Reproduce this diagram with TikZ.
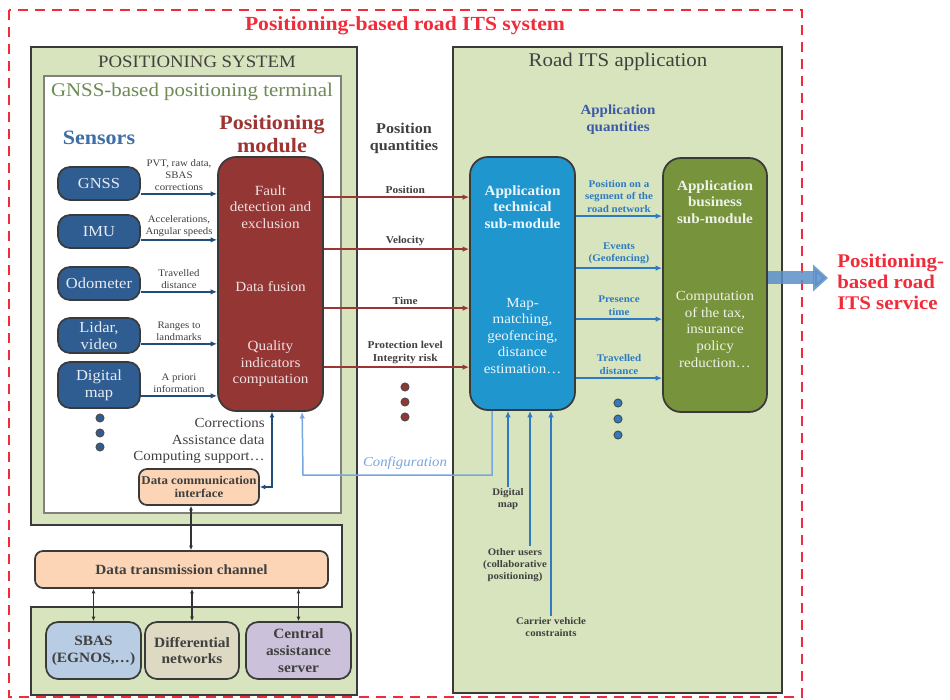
\documentclass[tikz,border=0pt]{standalone}
\usepackage{fontspec}
\setmainfont[FakeStretch=1.08]{Liberation Serif}
\usetikzlibrary{arrows.meta,positioning,calc}

\definecolor{redline}{HTML}{F02C3A}
\definecolor{boxgreen}{HTML}{D7E4BD}
\definecolor{boxline}{HTML}{3A3A3A}
\definecolor{termgreen}{HTML}{6C8A52}
\definecolor{sensblue}{HTML}{3D6EA8}
\definecolor{sensfill}{HTML}{2F5D92}
\definecolor{modred}{HTML}{9E3535}
\definecolor{modfill}{HTML}{943634}
\definecolor{techblue}{HTML}{2096CF}
\definecolor{busgreen}{HTML}{77933C}
\definecolor{qblue}{HTML}{3D5AA8}
\definecolor{arrblue}{HTML}{2E7BC4}
\definecolor{cfgblue}{HTML}{78A6DE}
\definecolor{darkblue}{HTML}{1F4E79}
\definecolor{peach}{HTML}{FBD5B5}
\definecolor{sbasblue}{HTML}{B8CCE4}
\definecolor{difftan}{HTML}{DDD9C3}
\definecolor{centlav}{HTML}{CCC1DA}
\definecolor{txtgray}{HTML}{404040}
\definecolor{outblue}{HTML}{5B8FC9}

\tikzset{
  outer/.style={draw=redline, line width=0.5mm, dash pattern=on 2mm off 1.4mm},
  sysbox/.style={draw=boxline, fill=boxgreen, line width=0.4mm},
  termbox/.style={draw=gray, fill=white, line width=0.3mm},
  boxtitle/.style={text=txtgray, font=\fontsize{11}{12}\selectfont, inner sep=0pt},
  bigtitle/.style={font=\bfseries\fontsize{11.6}{13.5}\selectfont, align=center, inner sep=0pt},
  box/.style={draw=boxline, line width=0.35mm, rounded corners=2.4mm, align=center, inner sep=0pt},
  sensor/.style={box, fill=sensfill, text=white!88!sensfill, minimum width=16.4mm, font=\fontsize{8.7}{9.8}\selectfont},
  module/.style={box, fill=modfill, rounded corners=3.6mm, minimum width=21mm, minimum height=50.8mm},
  modtext/.style={text=white!85!modfill, align=center, inner sep=0pt, font=\fontsize{8}{9.4}\selectfont},
  techtext/.style={text=white!92!techblue, align=center, inner sep=0pt, font=\fontsize{7.9}{9.4}\selectfont},
  bustext/.style={text=white!88!busgreen, align=center, inner sep=0pt, font=\fontsize{7.9}{9.4}\selectfont},
  subname/.style={font=\bfseries\fontsize{8}{9.4}\selectfont},
  slabel/.style={text=txtgray, align=center, inner sep=0.5mm, font=\fontsize{5.7}{6.9}\selectfont},
  qlabel/.style={text=txtgray, align=center, inner sep=0.5mm, font=\bfseries\fontsize{6}{7.3}\selectfont},
  alabel/.style={text=arrblue, align=center, inner sep=0.6mm, font=\bfseries\fontsize{5.8}{6.9}\selectfont},
  blabel/.style={text=txtgray, align=center, inner sep=0.3mm, font=\bfseries\fontsize{5.7}{6.9}\selectfont},
  senarrow/.style={draw=darkblue, line width=0.3mm, -{Latex[length=1.3mm,width=1.1mm]}},
  posarrow/.style={draw=modred, line width=0.3mm, -{Latex[length=1.3mm,width=1.1mm]}},
  apparrow/.style={draw=arrblue, line width=0.4mm, -{Latex[length=1.3mm,width=1.1mm]}},
  inarrow/.style={draw=arrblue, line width=0.4mm, -{Latex[length=1.3mm,width=1.1mm]}},
  cfgarrow/.style={draw=cfgblue, line width=0.3mm, -{Latex[length=1.3mm,width=1.1mm]}},
  commarrow/.style={draw=darkblue, line width=0.3mm, {Latex[length=1.1mm,width=1mm]}-{Latex[length=1.1mm,width=1mm]}},
  linkarrow/.style={draw=black!80, line width=0.25mm, {Latex[length=0.9mm,width=0.8mm]}-{Latex[length=0.9mm,width=0.8mm]}},
  server/.style={box, text=txtgray, minimum height=11.4mm, font=\bfseries\fontsize{8.1}{9.6}\selectfont},
  dotred/.style={draw=black!70, fill=modfill, line width=0.2mm},
  dotblue/.style={draw=black!70, fill=arrblue, line width=0.2mm},
  dotsens/.style={draw=black!70, fill=sensfill, line width=0.2mm}
}

\begin{document}
\begin{tikzpicture}[x=0.2mm,y=-0.2mm]
\useasboundingbox (0,0) rectangle (950,700);
\draw[outer] (9,10) rectangle (802,697);
\node[text=redline, font=\bfseries\fontsize{11.4}{12}\selectfont] (systitle) at (405,26) {Positioning-based road ITS system};

\draw[sysbox] (31,47) -- (357,47) -- (357,695) -- (31,695) -- (31,607) -- (342,607) -- (342,525) -- (31,525) -- cycle;
\node[boxtitle, font=\fontsize{9.9}{12}\selectfont] (possys) at (197,62) {POSITIONING SYSTEM};
\draw[termbox] (44,76) rectangle (341,513);
\node[boxtitle, text=termgreen] (term) at (192,92) {GNSS-based positioning terminal};
\draw[sysbox] (453,47) rectangle (782,693);
\node[boxtitle] (road) at (618,62) {Road ITS application};

\node[bigtitle, text=sensblue] (senstitle) at (99,138) {Sensors};
\node[bigtitle, text=modred] (modtitle) at (272,134) {Positioning\\module};
\node[text=txtgray, align=center, inner sep=0pt, font=\bfseries\fontsize{8.5}{9.6}\selectfont] (posq) at (404,138) {Position\\quantities};
\node[text=qblue, align=center, inner sep=0pt, font=\bfseries\fontsize{7.9}{9.6}\selectfont] (appq) at (618,120) {Application\\quantities};

\node[sensor, minimum height=6.6mm] (gnss) at (99,183.5) {GNSS};
\node[sensor, minimum height=6.6mm] (imu) at (99,231.5) {IMU};
\node[sensor, minimum height=6.6mm] (odo) at (99,283.5) {Odometer};
\node[sensor, minimum height=7mm] (lidar) at (99,335.5) {Lidar,\\video};
\node[sensor, minimum height=9.2mm] (dmapsens) at (99,385) {Digital\\map};
\filldraw[dotsens] (100,418) circle (0.8mm);
\filldraw[dotsens] (100,433) circle (0.8mm);
\filldraw[dotsens] (100,447) circle (0.8mm);

\node[module] (module) at (270.5,284) {};
\node[modtext] (fde) at (270.5,207) {Fault\\detection and\\exclusion};
\node[modtext] (fusion) at (270.5,287) {Data fusion};
\node[modtext] (quality) at (270.5,364) {Quality\\indicators\\computation};

\node[box, fill=techblue, rounded corners=3.6mm, minimum width=21mm, minimum height=50.6mm] (apptech) at (522.5,283.5) {};
\node[techtext, subname] (techname) at (522.5,207) {Application\\technical\\sub-module};
\node[techtext] (techjob) at (522.5,336) {Map-\\matching,\\geofencing,\\distance\\estimation…};
\node[box, fill=busgreen, rounded corners=3.6mm, minimum width=20.8mm, minimum height=50.8mm] (appbus) at (715,285) {};
\node[bustext, subname] (busname) at (715,202) {Application\\business\\sub-module};
\node[bustext] (busjob) at (715,329.5) {Computation\\of the tax,\\insurance\\policy\\reduction…};

\draw[senarrow] ([yshift=1.4mm]gnss.south east) -- ([yshift=1.4mm]gnss.south east -| module.west) node[midway, above, slabel] {PVT, raw data,\\SBAS\\corrections};
\draw[senarrow] ([yshift=1.8mm]imu.south east) -- ([yshift=1.8mm]imu.south east -| module.west) node[midway, above, slabel] {Accelerations,\\Angular speeds};
\draw[senarrow] ([yshift=1.8mm]odo.south east) -- ([yshift=1.8mm]odo.south east -| module.west) node[midway, above, slabel] {Travelled\\distance};
\draw[senarrow] ([yshift=2mm]lidar.south east) -- ([yshift=2mm]lidar.south east -| module.west) node[midway, above, slabel] {Ranges to\\landmarks};
\draw[senarrow] ([yshift=2.6mm]dmapsens.south east) -- ([yshift=2.6mm]dmapsens.south east -| module.west) node[midway, above, slabel] {A priori\\information};

\draw[posarrow] ([yshift=-8.2mm]module.north east) -- ([yshift=-8.2mm]module.north east -| apptech.west) node[pos=0.56, above, qlabel] {Position};
\draw[posarrow] ([yshift=-18.6mm]module.north east) -- ([yshift=-18.6mm]module.north east -| apptech.west) node[pos=0.56, above, qlabel] {Velocity};
\draw[posarrow] ([yshift=-30.4mm]module.north east) -- ([yshift=-30.4mm]module.north east -| apptech.west) node[pos=0.56, above, qlabel] {Time};
\draw[posarrow] ([yshift=-42.2mm]module.north east) -- ([yshift=-42.2mm]module.north east -| apptech.west) node[pos=0.56, above, qlabel] {Protection level\\Integrity risk};
\filldraw[dotred] (405,387) circle (0.8mm);
\filldraw[dotred] (405,402) circle (0.8mm);
\filldraw[dotred] (405,417) circle (0.8mm);

\draw[apparrow] ([yshift=-12mm]apptech.north east) -- ([yshift=-12mm]apptech.north east -| appbus.west) node[midway, above, alabel] {Position on a\\segment of the\\road network};
\draw[apparrow] ([yshift=-22.4mm]apptech.north east) -- ([yshift=-22.4mm]apptech.north east -| appbus.west) node[midway, above, alabel] {Events\\(Geofencing)};
\draw[apparrow] ([yshift=-32.6mm]apptech.north east) -- ([yshift=-32.6mm]apptech.north east -| appbus.west) node[midway, above, alabel] {Presence\\time};
\draw[apparrow] ([yshift=-44.4mm]apptech.north east) -- ([yshift=-44.4mm]apptech.north east -| appbus.west) node[midway, above, alabel] {Travelled\\distance};
\filldraw[dotblue] (618,403) circle (0.8mm);
\filldraw[dotblue] (618,419) circle (0.8mm);
\filldraw[dotblue] (618,435) circle (0.8mm);

\node[text=redline, align=left, anchor=west, inner sep=0pt, font=\bfseries\fontsize{11}{11.8}\selectfont] (service) at (837,282) {Positioning-\\based road\\ITS service};
\draw[draw=outblue, opacity=0.85, line width=2.6mm, -{Triangle[length=3mm,width=5.2mm]}] ([yshift=1.4mm]appbus.east) -- ([yshift=1.4mm,xshift=-1.8mm]appbus.east -| service.west);

\coordinate (cfg) at (303,475);
\draw[cfgarrow] ([xshift=4.6mm]apptech.south west) |- (cfg) -- ([xshift=17mm]module.south west);
\node[text=cfgblue, inner sep=0pt, font=\itshape\fontsize{7.8}{9}\selectfont] (cfgtxt) at (405,463) {Configuration};

\node[blabel] (dmap) at (508,499.5) {Digital\\map};
\node[blabel] (users) at (515,565) {Other users\\(collaborative\\positioning)};
\node[blabel] (carrier) at (551,627.5) {Carrier vehicle\\constraints};
\draw[inarrow] (dmap.north) -- (dmap.north |- apptech.south);
\draw[inarrow] ([xshift=3mm]users.north) -- ([xshift=3mm]users.north |- apptech.south);
\draw[inarrow] (carrier.north) -- (carrier.north |- apptech.south);

\node[text=txtgray, align=right, anchor=east, inner sep=0pt, font=\fontsize{7.9}{9.4}\selectfont] (corr) at (265,441) {Corrections\\Assistance data\\Computing support…};
\node[box, fill=peach, text=txtgray, rounded corners=1.6mm, minimum width=24mm, minimum height=7.2mm, font=\bfseries\fontsize{6.8}{7.6}\selectfont] (comm) at (199,487) {Data communication\\interface};
\draw[commarrow] (comm.east) -| ([xshift=0.3mm]module.south);
\node[box, fill=peach, text=txtgray, rounded corners=1.6mm, minimum width=58.6mm, minimum height=7.4mm, font=\bfseries\fontsize{8}{9}\selectfont] (chan) at (181.5,569.5) {Data transmission channel};
\draw[linkarrow] ([xshift=-1.6mm]comm.south) -- ([xshift=-1.6mm]comm.south |- chan.north);

\node[server, fill=sbasblue, minimum width=19mm] (sbas) at (93.5,650.5) {SBAS\\(EGNOS,…)};
\node[server, fill=difftan, minimum width=18.8mm] (diff) at (192,650.5) {Differential\\networks};
\node[server, fill=centlav, minimum width=21mm] (central) at (298.5,650.5) {Central\\assistance\\server};
\draw[linkarrow] (sbas.north |- chan.south) -- (sbas.north);
\draw[linkarrow] (diff.north |- chan.south) -- (diff.north);
\draw[linkarrow] (central.north |- chan.south) -- (central.north);
\end{tikzpicture}
\end{document}
